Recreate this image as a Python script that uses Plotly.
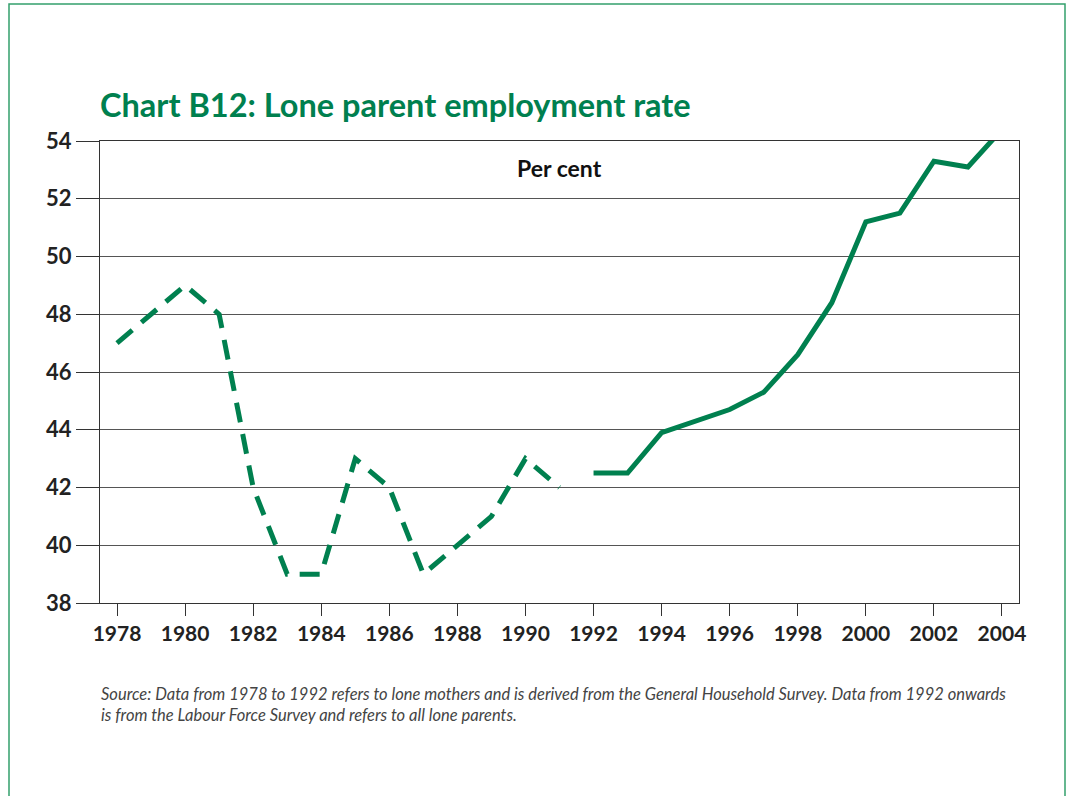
import plotly.graph_objects as go

years_ghs = [1978, 1979, 1980, 1981, 1982, 1983, 1984, 1985, 1986, 1987, 1988, 1989, 1990, 1991]
rate_ghs = [47, 48, 49, 48, 42, 39, 39, 43, 42, 39, 40, 41, 43, 42]
years_lfs = [1992, 1993, 1994, 1995, 1996, 1997, 1998, 1999, 2000, 2001, 2002, 2003, 2004]
rate_lfs = [42.5, 42.5, 43.9, 44.3, 44.7, 45.3, 46.6, 48.4, 51.2, 51.5, 53.3, 53.1, 54.4]
x_ticks = list(range(1978, 2005, 2))
y_ticks = list(range(38, 55, 2))

GREEN = "#00804f"
FONT = "Lato"

# page coordinates of plot area (body margin removed by post_script)
PL, PR, PT, PB = 100, 1019, 141, 603
W, H = 1068, 796
ml, mt = PL, PT
mr = W - PR
mb = H - PB
pw, ph = PR - PL, PB - PT


def px(x):
    return (x - PL) / pw


def py(y):
    return (PB - y) / ph


fig = go.Figure()
fig.add_trace(go.Scatter(x=years_ghs, y=rate_ghs, mode="lines",
                         line=dict(color=GREEN, width=5, dash="20px,12px"),
                         showlegend=False))
fig.add_trace(go.Scatter(x=years_lfs, y=rate_lfs, mode="lines",
                         line=dict(color=GREEN, width=5),
                         showlegend=False))

fig.update_layout(
    width=W, height=H,
    margin=dict(l=ml, r=mr, t=mt, b=mb),
    paper_bgcolor="white", plot_bgcolor="white",
    font=dict(family=FONT, color="#222"),
    xaxis=dict(range=[1977.5, 2004.5], tickvals=x_ticks, ticktext=[str(v) for v in x_ticks],
               showgrid=False, zeroline=False, showline=True, linecolor="#333", linewidth=1.2,
               mirror=True, ticks="outside", ticklen=12, tickcolor="#333", tickwidth=1.2,
               tickfont=dict(family=FONT, size=21, color="#222", weight="bold")),
    yaxis=dict(range=[38, 54], tickvals=y_ticks, showgrid=True, gridcolor="#555", gridwidth=1,
               zeroline=False, showline=True, linecolor="#333", linewidth=1.2, mirror=True,
               ticks="outside", ticklen=23, tickcolor="#333", tickwidth=1.2,
               tickfont=dict(family=FONT, size=22, color="#222", weight="bold")),
    annotations=[
        dict(text="Chart B12: Lone parent employment rate", xref="paper", yref="paper",
             x=px(98), y=py(104), xanchor="left", yanchor="middle", showarrow=False,
             font=dict(family=FONT, size=32.5, color=GREEN, weight="bold")),
        dict(text="Per cent", xref="paper", yref="paper",
             x=px(559), y=py(168), xanchor="center", yanchor="middle",
             showarrow=False, font=dict(family=FONT, size=23, color="#111", weight="bold")),
        dict(text="<i>Source: Data from 1978 to 1992 refers to lone mothers and is derived from the General Household Survey. Data from 1992 onwards<br>is from the Labour Force Survey and refers to all lone parents.</i>",
             xref="paper", yref="paper", x=px(99), y=py(682),
             xanchor="left", yanchor="top", align="left", showarrow=False,
             font=dict(family=FONT, size=16.5, color="#444")),
    ],
    shapes=[
        dict(type="rect", xref="paper", yref="paper",
             x0=px(9), x1=px(1065), y0=py(830), y1=py(4),
             line=dict(color="#33a06c", width=1.5), fillcolor="rgba(0,0,0,0)", layer="below"),
    ],
)

fig.write_html(
    "out.html",
    config={"displayModeBar": False},
    post_script="document.body.style.margin='0';document.body.style.overflow='hidden';",
)
